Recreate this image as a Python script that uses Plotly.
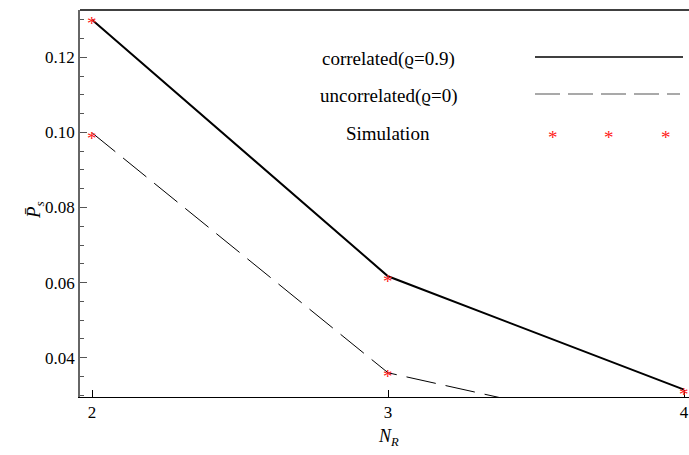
import plotly.graph_objects as go

# ---- data ----
n_r = [2, 3, 4]
correlated = [0.1300, 0.0617, 0.0315]
uncorrelated = [0.0999, 0.0360, 0.0185]
sim_x = [2, 3, 4, 2, 3]
sim_y = [0.1297, 0.0612, 0.0311, 0.0993, 0.0357]
x_ticks = [2, 3, 4]
y_ticks = [0.04, 0.06, 0.08, 0.10, 0.12]
y_tick_labels = ["0.04", "0.06", "0.08", "0.10", "0.12"]
legend_labels = ["correlated(\u03f1=0.9)", "uncorrelated(\u03f1=0)", "Simulation"]

W, H = 689, 455
L, R, T, B = 80, 0, 10, 58
PW, PH = W - L - R, H - T - B

def px(x):
    return (x - L) / PW

def py(y):
    return (H - B - y) / PH

FONT = "Liberation Serif"
RED = "#ff2020"

fig = go.Figure()
fig.add_trace(go.Scatter(x=n_r, y=correlated, mode="lines",
                         line=dict(color="black", width=2), showlegend=False))
fig.add_trace(go.Scatter(x=n_r, y=uncorrelated, mode="lines",
                         line=dict(color="black", width=1, dash="30px,10px"), showlegend=False))
# invisible anchor points for the simulation marks
fig.add_trace(go.Scatter(x=sim_x, y=sim_y, mode="markers",
                         marker=dict(size=1, color="rgba(0,0,0,0)"),
                         showlegend=False, hoverinfo="skip"))

shapes = [
    dict(type="line", xref="paper", yref="paper", x0=0, x1=1, y0=1, y1=1,
         line=dict(color="black", width=1.5)),
    # legend samples
    dict(type="line", xref="paper", yref="paper", x0=px(535), x1=px(683), y0=py(57), y1=py(57),
         line=dict(color="black", width=1.5)),
    dict(type="line", xref="paper", yref="paper", x0=px(535), x1=px(680), y0=py(94), y1=py(94),
         line=dict(color="#555555", width=1.2, dash="25px,8px")),
]

annotations = []
# simulation asterisks at data coordinates
for xv, yv in zip(sim_x, sim_y):
    annotations.append(dict(text="*", xref="x", yref="y", x=xv, y=yv, yshift=-3,
                            showarrow=False, xanchor="center", yanchor="middle",
                            font=dict(family=FONT, size=19, color=RED)))
for lab, yy in zip(legend_labels, [59, 96, 133]):
    annotations.append(dict(text=lab, xref="paper", yref="paper", x=px(388), y=py(yy),
                            showarrow=False, xanchor="center", yanchor="middle",
                            font=dict(family=FONT, size=19, color="black")))
for sx in [553, 609, 666]:
    annotations.append(dict(text="*", xref="paper", yref="paper", x=px(sx), y=py(137),
                            showarrow=False, xanchor="center", yanchor="middle",
                            font=dict(family=FONT, size=19, color=RED)))
annotations.append(dict(text="<i>P\u0304</i><sub><i>s</i></sub>", xref="paper", yref="paper",
                        x=px(35), y=py(210), showarrow=False, textangle=-90,
                        xanchor="center", yanchor="middle",
                        font=dict(family=FONT, size=19, color="black")))
annotations.append(dict(text="<i>N<sub>R</sub></i>", xref="paper", yref="paper",
                        x=px(388), y=py(437), showarrow=False,
                        xanchor="center", yanchor="middle",
                        font=dict(family=FONT, size=18, color="black")))

fig.update_layout(
    width=W, height=H,
    margin=dict(l=L, r=R, t=T, b=B, pad=0),
    paper_bgcolor="white", plot_bgcolor="white",
    shapes=shapes, annotations=annotations,
    xaxis=dict(range=[2 - 12 / 296, 4 + 5 / 296], tickvals=x_ticks, ticktext=[str(v) for v in x_ticks],
               ticks="inside", ticklen=7, tickcolor="black", tickwidth=1,
               showline=True, linecolor="black", linewidth=1,
               showgrid=False, zeroline=False,
               tickfont=dict(family=FONT, size=17, color="black")),
    yaxis=dict(range=[0.02955, 0.1326], tickvals=y_ticks, ticktext=y_tick_labels,
               ticks="inside", ticklen=7, tickcolor="#555555", tickwidth=1,
               showline=True, linecolor="#666666", linewidth=1.5,
               showgrid=False, zeroline=False,
               minor=dict(dtick=0.005, tick0=0.0, ticks="inside", ticklen=4,
                          tickcolor="#555555", showgrid=False),
               tickfont=dict(family=FONT, size=17, color="black")),
)

fig.write_html("out.html")
